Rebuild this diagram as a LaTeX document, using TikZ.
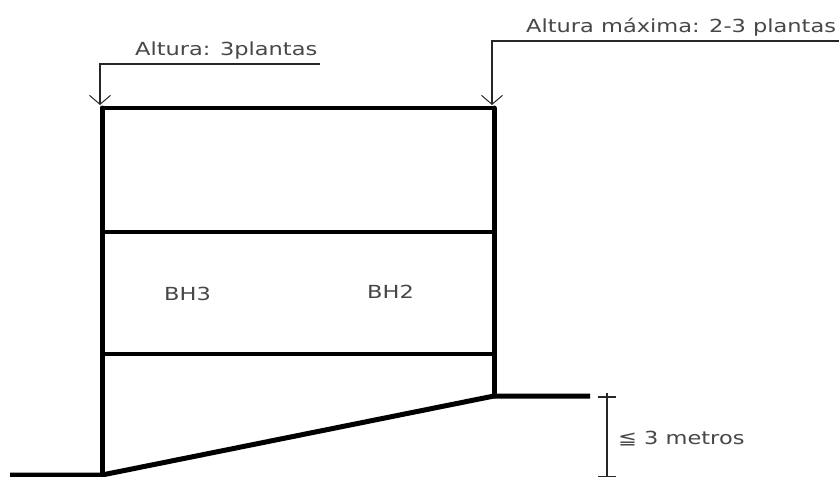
\documentclass[tikz,border=0pt]{standalone}
\usepackage{fontspec}
\setmainfont[FakeStretch=1.25]{DejaVu Sans}
\usetikzlibrary{arrows.meta}
\tikzset{
  wall/.style={line width=5pt,black,line cap=round,line join=miter},
  slab/.style={line width=4.2pt,black},
  thinline/.style={line width=1.2pt,black!85},
  leader/.style={thinline,-{Straight Barb[length=9pt,width=21pt,line width=1pt]}},
  lab/.style={text=black!72,font=\fontsize{18pt}{21pt}\selectfont,inner sep=0pt,anchor=base west}
}
\begin{document}
\begin{tikzpicture}[x=1pt,y=-1pt]
\useasboundingbox[fill=white] (0,0) rectangle (839,477);
\coordinate (tl) at (102,108);
\coordinate (tr) at (494,108);
\coordinate (ml1) at (102,232);
\coordinate (mr1) at (494,232);
\coordinate (ml2) at (102,354);
\coordinate (mr2) at (494,354);
\coordinate (bl) at (102,475);
\coordinate (br) at (494,396);
\coordinate (gl) at (10,475);
\coordinate (gr) at (590,396);
\coordinate (dt) at (607,393);
\coordinate (db) at (607,477);
\coordinate (t1a) at (598,397);
\coordinate (t1b) at (616,397);
\coordinate (t2a) at (598,476.5);
\coordinate (t2b) at (616,476.5);
\coordinate (a1s) at (320,64);
\coordinate (a1c) at (100,64);
\coordinate (a1e) at (100,105);
\coordinate (a2s) at (839,41);
\coordinate (a2c) at (492,41);
\coordinate (a2e) at (492,105);
\draw[wall] (bl) -- (tl);
\draw[wall] (br) -- (tr);
\draw[slab] (tl) -- (tr);
\draw[slab] (ml1) -- (mr1);
\draw[slab] (ml2) -- (mr2);
\draw[wall,line cap=butt] (gl) -- (bl) -- (br) -- (gr);
\draw[leader] (a1s) -- (a1c) -- (a1e);
\draw[leader] (a2s) -- (a2c) -- (a2e);
\draw[thinline] (dt) -- (db);
\draw[thinline] (t1a) -- (t1b);
\draw[thinline] (t2a) -- (t2b);
\node[lab] (alt1) at (135,55) {Altura: 3plantas};
\node[lab] (alt2) at (526,32) {Altura máxima: 2-3 plantas};
\node[lab] (bh3) at (164,300.5) {BH3};
\node[lab] (bh2) at (367,298) {BH2};
\node[lab] (met) at (618,444) {≦ 3 metros};
\end{tikzpicture}
\end{document}
